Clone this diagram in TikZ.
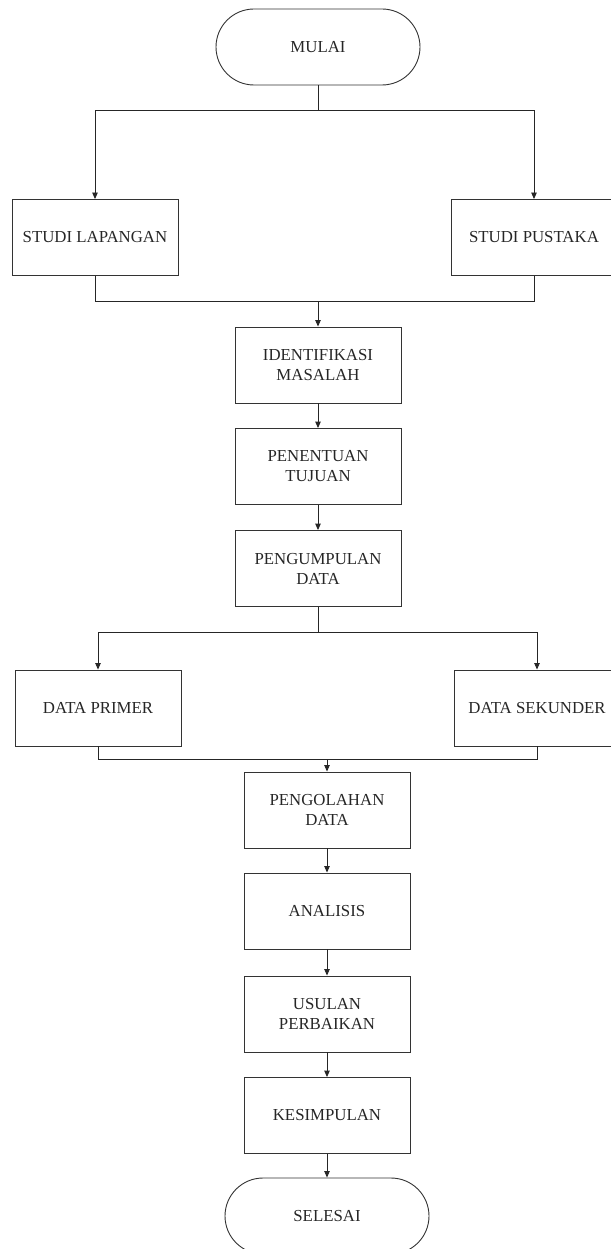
\documentclass[tikz,border=0pt]{standalone}
\usepackage{fontspec}
\setmainfont{Liberation Serif}
\usetikzlibrary{arrows.meta}
\begin{document}
\begin{tikzpicture}[x=1pt,y=-1pt,
  line width=0.9pt,
  every node/.style={text=black!85},
  procbox/.style={draw=black!80, minimum width=166pt, minimum height=76pt, inner sep=0pt,
    align=center, font=\fontsize{16.8}{20}\selectfont},
  termbox/.style={draw=black!80, rounded corners=38pt, minimum width=204pt, minimum height=76pt,
    inner sep=0pt, align=center, font=\fontsize{16.8}{20}\selectfont},
  link/.style={draw=black!85},
  arr/.style={draw=black!85, -{Triangle[length=6.5pt,width=5.5pt]}}]
\useasboundingbox (0,0) rectangle (610,1249);
\node[termbox] (mulai) at (318,47) {MULAI};
\node[procbox] (sl) at (95,237.5) {STUDI LAPANGAN};
\node[procbox] (sp) at (534,237.5) {STUDI PUSTAKA};
\node[procbox] (im) at (318,365) {IDENTIFIKASI\\MASALAH};
\node[procbox] (pt) at (318,466.5) {PENENTUAN\\TUJUAN};
\node[procbox] (pd) at (318,568.5) {PENGUMPULAN\\DATA};
\node[procbox] (dp) at (98,708) {DATA PRIMER};
\node[procbox] (ds) at (537,708) {DATA SEKUNDER};
\node[procbox] (pg) at (327,810) {PENGOLAHAN\\DATA};
\node[procbox] (an) at (327,911) {ANALISIS};
\node[procbox] (up) at (327,1014) {USULAN\\PERBAIKAN};
\node[procbox] (ks) at (327,1115.5) {KESIMPULAN};
\node[termbox] (sel) at (327,1216) {SELESAI};
\coordinate (j1) at (318,110);
\coordinate (j2) at (318,301);
\coordinate (j3) at (318,632);
\coordinate (j4) at (327,759);
\draw[link] (mulai.south) -- (j1);
\draw[arr] (j1) -| (sl.north);
\draw[arr] (j1) -| (sp.north);
\draw[link] (sl.south) |- (j2);
\draw[link] (sp.south) |- (j2);
\draw[arr] (j2) -- (im.north);
\draw[arr] (im) -- (pt);
\draw[arr] (pt) -- (pd);
\draw[link] (pd.south) -- (j3);
\draw[arr] (j3) -| (dp.north);
\draw[arr] (j3) -| (ds.north);
\draw[link] (dp.south) |- (j4);
\draw[link] (ds.south) |- (j4);
\draw[arr] (j4) -- (pg.north);
\draw[arr] (pg) -- (an);
\draw[arr] (an) -- (up);
\draw[arr] (up) -- (ks);
\draw[arr] (ks) -- (sel);
\end{tikzpicture}
\end{document}
